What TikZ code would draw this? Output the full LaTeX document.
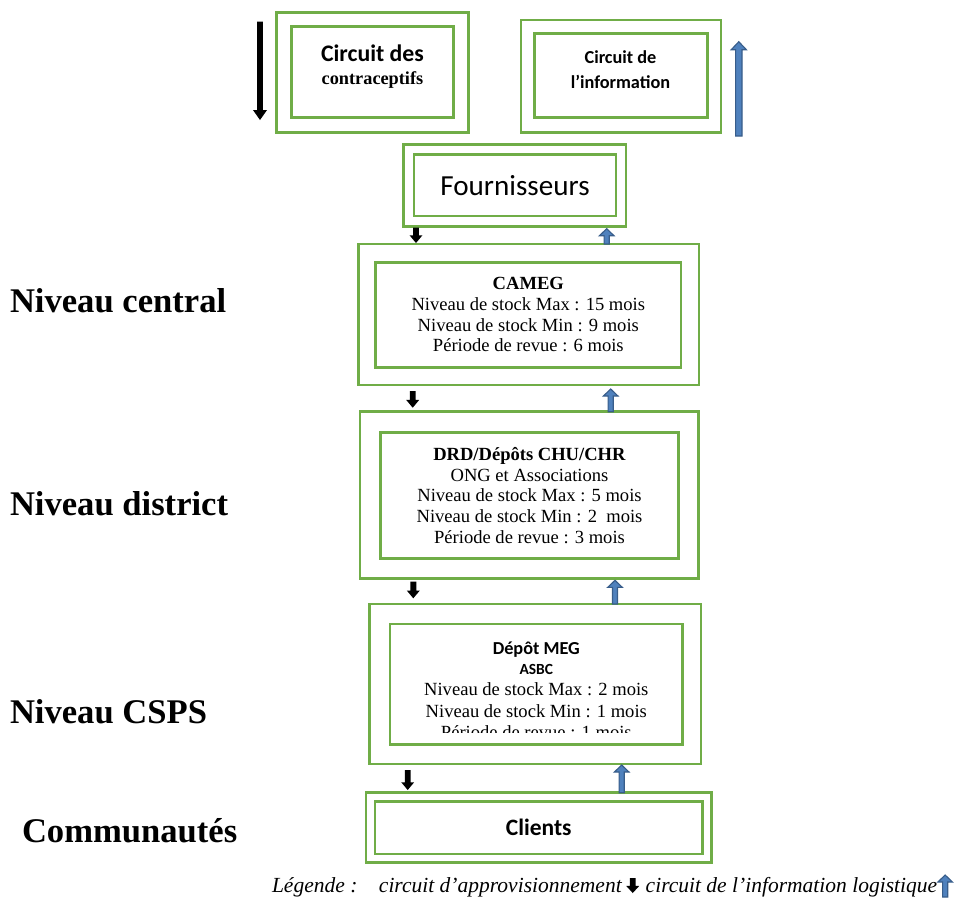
\documentclass[tikz,border=0pt]{standalone}
\usepackage{fontspec}
\setmainfont{Liberation Serif}
\newfontfamily\calibrifont{Carlito}
\usetikzlibrary{
    calc,
    positioning
}

\definecolor{framegreen}{HTML}{70AD47}
\definecolor{infoblue}{HTML}{4F81BD}
\definecolor{infoline}{HTML}{385D8A}

% one pixel of the original drawing
\newcommand{\px}{0.025cm}

% block arrow: style, from, to, half shaft, half head, head length
\newcommand{\blockarrow}[6]{%
    \coordinate (ba-s) at #2;
    \coordinate (ba-e) at #3;
    \coordinate (ba-n) at ($(ba-e)!#6!(ba-s)$);
    \filldraw[#1]
        ($(ba-s)!#4!90:(ba-e)$)
        -- ($(ba-n)!#4!90:(ba-e)$)
        -- ($(ba-n)!#5!90:(ba-e)$)
        -- (ba-e)
        -- ($(ba-n)!#5!-90:(ba-e)$)
        -- ($(ba-n)!#4!-90:(ba-e)$)
        -- ($(ba-s)!#4!-90:(ba-e)$)
        -- cycle;
}

\begin{document}
\begin{tikzpicture}[
    x=0.025cm,
    y=-0.025cm,
    every node/.style={
        inner sep=0pt,
        outer sep=0pt
    },
    outerframe/.style={
        rectangle,
        draw=framegreen,
        line width=2pt
    },
    innerframe/.style={
        rectangle,
        draw=framegreen,
        line width=2pt,
        align=center
    },
    boxtext/.style={
        font=\fontsize{13.2pt}{14.7pt}\selectfont,
        align=center
    },
    leveltext/.style={
        font=\fontsize{24.6pt}{28pt}\selectfont\bfseries,
        anchor=base west
    },
    legendtext/.style={
        font=\fontsize{15.3pt}{18pt}\selectfont\itshape,
        anchor=base west
    },
    supplyarrow/.style={
        fill=black,
        draw=none
    },
    infoarrow/.style={
        fill=infoblue,
        draw=infoline,
        line width=0.8pt
    }
]

    \useasboundingbox (0,0) rectangle (960,904);

    % -------------------------------------------------------
    % Circuit headers
    % -------------------------------------------------------
    \node[outerframe, minimum width=192*\px, minimum height=120*\px]
        (contra-frame) at (372.7,72.3) {};
    \node[innerframe, minimum width=161.6*\px, minimum height=90.6*\px]
        (contra) at (372.5,72) {};
    \node[
        font=\fontsize{13pt}{16.5pt}\selectfont\bfseries,
        align=center
    ] (contra-text) at (372.5,66.5)
        {{\calibrifont\fontsize{16.9pt}{16.5pt}\selectfont Circuit des}\\contraceptifs};

    \node[outerframe, minimum width=200*\px, minimum height=112.3*\px]
        (info-frame) at (621,76.2) {};
    \node[innerframe, minimum width=172.6*\px, minimum height=84.4*\px]
        (info) at (621,75.5) {};
    \node[
        font=\calibrifont\fontsize{13pt}{17.5pt}\selectfont\bfseries,
        align=center
    ] (info-text) at (620.5,69.5)
        {Circuit de\\l’information};

    \coordinate (supply-top) at (260,21.7);
    \coordinate (supply-bottom) at (260,120);
    \blockarrow{supplyarrow}{(supply-top)}{(supply-bottom)}{2.1pt}{5pt}{7.1pt}

    \coordinate (info-bottom) at (738.8,136);
    \coordinate (info-top) at (738.8,41.7);
    \blockarrow{infoarrow}{(info-bottom)}{(info-top)}{2.3pt}{5.4pt}{5.7pt}

    % -------------------------------------------------------
    % Supply chain boxes
    % -------------------------------------------------------
    \node[outerframe, minimum width=222.3*\px, minimum height=82.4*\px]
        (fourn-frame) at (514.9,185.5) {};
    \node[
        innerframe,
        minimum width=202*\px,
        minimum height=61.7*\px,
        font=\calibrifont\fontsize{20.7pt}{24pt}\selectfont
    ] (fourn) at (515,185.2) {Fournisseurs};

    \node[outerframe, minimum width=340.7*\px, minimum height=141*\px]
        (cameg-frame) at (528.7,314.5) {};
    \node[innerframe, boxtext, minimum width=305.3*\px, minimum height=105*\px]
        (cameg) at (528.3,314.8)
        {\textbf{CAMEG}\\Niveau de stock Max : 15 mois\\Niveau de stock Min : 9 mois\\Période de revue : 6 mois};

    \node[outerframe, minimum width=338.3*\px, minimum height=166.6*\px]
        (drd-frame) at (529.2,495) {};
    \node[innerframe, boxtext, minimum width=297.6*\px, minimum height=125.6*\px]
        (drd) at (529.5,495.5)
        {\textbf{DRD/Dépôts CHU/CHR}\\ONG et Associations\\Niveau de stock Max : 5 mois\\Niveau de stock Min : 2\ \ mois\\Période de revue : 3 mois};

    \node[outerframe, minimum width=331.7*\px, minimum height=160*\px]
        (csps-frame) at (535.2,684) {};
    \node[innerframe, minimum width=292.7*\px, minimum height=120.3*\px]
        (csps) at (536.3,684.2) {};
    % last line is cut by the text box
    \begin{scope}
        \clip (385,600) rectangle (690,732.7);
        \node[boxtext, font=\fontsize{13.2pt}{15.3pt}\selectfont] (csps-text) at (536.3,690.5)
            {{\calibrifont\bfseries\fontsize{13pt}{15.3pt}\selectfont Dépôt MEG}\\[-1.4pt]
             {\calibrifont\bfseries\fontsize{11pt}{15.3pt}\selectfont ASBC}\\
             Niveau de stock Max : 2 mois\\Niveau de stock Min : 1 mois\\Période de revue : 1 mois};
    \end{scope}

    \node[outerframe, minimum width=345.7*\px, minimum height=70*\px]
        (clients-frame) at (538.8,827.7) {};
    \node[
        innerframe,
        minimum width=327.3*\px,
        minimum height=52.3*\px,
        font=\calibrifont\fontsize{16.7pt}{20pt}\selectfont\bfseries
    ] (clients) at (538.7,827.8) {Clients};

    % -------------------------------------------------------
    % Arrows between levels
    % -------------------------------------------------------
    \coordinate (down1) at (416,0);
    \coordinate (up1) at (606.7,0);
    \blockarrow{supplyarrow}{($(fourn-frame.south -| down1)+(0,1)$)}{($(cameg-frame.north -| down1)+(0,-1)$)}{2.1pt}{4.6pt}{5.5pt}
    \blockarrow{infoarrow}{(cameg-frame.north -| up1)}{($(fourn-frame.south -| up1)+(0,2)$)}{1.8pt}{5.2pt}{5pt}

    \coordinate (down2) at (412.7,0);
    \coordinate (up2) at (610.7,0);
    \blockarrow{supplyarrow}{($(cameg-frame.south -| down2)+(0,6)$)}{($(drd-frame.north -| down2)+(0,-4)$)}{2.1pt}{4.6pt}{5.5pt}
    \blockarrow{infoarrow}{(drd-frame.north -| up2)}{($(cameg-frame.south -| up2)+(0,4)$)}{1.8pt}{5.2pt}{5pt}

    \coordinate (down3) at (413.3,0);
    \coordinate (up3) at (615,0);
    \blockarrow{supplyarrow}{($(drd-frame.south -| down3)+(0,3.4)$)}{($(csps-frame.north -| down3)+(0,-5.7)$)}{2.1pt}{4.6pt}{5.5pt}
    \blockarrow{infoarrow}{(csps-frame.north -| up3)}{($(drd-frame.south -| up3)+(0,2)$)}{1.8pt}{5.2pt}{5pt}

    \coordinate (down4) at (407.7,0);
    \coordinate (up4) at (621.7,0);
    \blockarrow{supplyarrow}{($(csps-frame.south -| down4)+(0,6)$)}{($(clients-frame.north -| down4)+(0,-2.7)$)}{2.1pt}{4.6pt}{5.5pt}
    \blockarrow{infoarrow}{(clients-frame.north -| up4)}{($(csps-frame.south -| up4)+(0,1)$)}{1.8pt}{5.2pt}{5pt}

    % -------------------------------------------------------
    % Levels
    % -------------------------------------------------------
    \node[leveltext] (central) at (10,312.7) {Niveau central};
    \node[leveltext] (district) at (10,515) {Niveau district};
    \node[leveltext] (cspslevel) at (10,723) {Niveau CSPS};
    \node[leveltext] (community) at (22,842.7) {Communautés};

    % -------------------------------------------------------
    % Legend
    % -------------------------------------------------------
    \node[legendtext] (legend-supply) at (272,892)
        {Légende :\hspace{1.0em}circuit d’approvisionnement};
    \coordinate (legend-down) at ($(legend-supply.base east)+(11,0)$);
    \blockarrow{supplyarrow}{($(legend-down)+(0,-14)$)}{($(legend-down)+(0,1)$)}{2.1pt}{4.6pt}{5pt}

    \node[legendtext] (legend-info) at ($(legend-supply.base east)+(24,0)$)
        {circuit de l’information logistique};
    \coordinate (legend-up) at ($(legend-info.base east)+(8,0)$);
    \blockarrow{infoarrow}{($(legend-up)+(0,5)$)}{($(legend-up)+(0,-17)$)}{1.8pt}{5.2pt}{5pt}

\end{tikzpicture}
\end{document}
